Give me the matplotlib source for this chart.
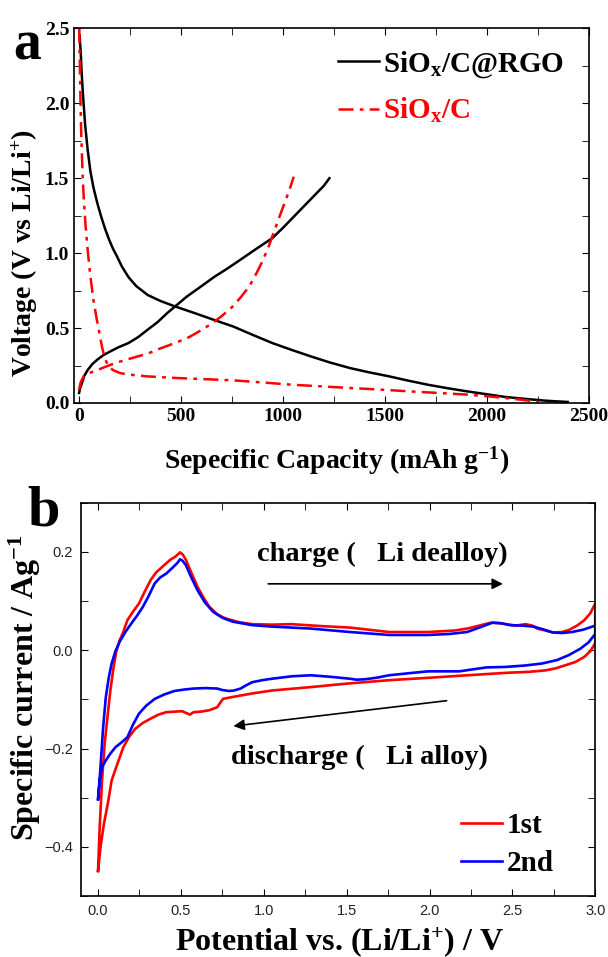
import matplotlib
matplotlib.use("Agg")
import matplotlib.pyplot as plt
from matplotlib.ticker import MultipleLocator

plt.rcParams['font.family'] = ['Liberation Serif', 'DejaVu Serif']
plt.rcParams['mathtext.fontset'] = 'custom'
plt.rcParams['mathtext.rm'] = 'Liberation Serif:bold'
plt.rcParams['mathtext.bf'] = 'Liberation Serif:bold'
plt.rcParams['mathtext.it'] = 'Liberation Serif:bold'
plt.rcParams['lines.solid_joinstyle'] = 'round'
plt.rcParams['lines.dash_joinstyle'] = 'round'

# ---- panel a: charge / discharge profiles (capacity mAh/g, voltage V) ----
rgo_dis_cap = [3, 5, 8, 12, 17, 23, 30, 42, 55, 70, 90, 109, 128, 147, 166, 185, 210,
               242, 280, 337, 400, 471, 566, 660, 756, 850, 947, 1040, 1138, 1230,
               1328, 1420, 1519, 1610, 1709, 1800, 1900, 2000, 2090, 2190, 2281, 2340, 2395]
rgo_dis_v = [2.45, 2.40, 2.34, 2.22, 2.10, 1.98, 1.85, 1.69, 1.55, 1.44, 1.33, 1.24,
             1.16, 1.09, 1.03, 0.98, 0.91, 0.84, 0.78, 0.72, 0.68, 0.644, 0.60, 0.555,
             0.51, 0.455, 0.40, 0.355, 0.31, 0.27, 0.233, 0.205, 0.178, 0.15, 0.122,
             0.10, 0.078, 0.058, 0.04, 0.027, 0.016, 0.011, 0.007]
rgo_chg_cap = [0, 5, 13, 25, 42, 65, 90, 120, 147, 190, 242, 290, 337, 385, 432, 480,
               528, 595, 661, 730, 795, 870, 947, 1000, 1050, 1100, 1150, 1200, 1227]
rgo_chg_v = [0.067, 0.10, 0.13, 0.18, 0.22, 0.26, 0.29, 0.32, 0.34, 0.37, 0.40, 0.44,
             0.49, 0.54, 0.60, 0.655, 0.71, 0.775, 0.84, 0.90, 0.96, 1.03, 1.10, 1.17,
             1.24, 1.31, 1.38, 1.45, 1.50]

c_dis_cap = [1, 2, 4, 7, 10, 13, 18, 23, 32, 42, 55, 70, 85, 99, 113, 128, 145, 166,
             200, 242, 330, 471, 600, 756, 900, 1042, 1200, 1328, 1470, 1614, 1760,
             1900, 2000, 2090, 2180, 2252]
c_dis_v = [2.5, 2.38, 2.24, 2.0, 1.82, 1.69, 1.50, 1.36, 1.18, 1.02, 0.85, 0.69, 0.57,
           0.47, 0.37, 0.29, 0.245, 0.22, 0.20, 0.19, 0.178, 0.167, 0.16, 0.151, 0.137,
           0.122, 0.11, 0.10, 0.09, 0.078, 0.067, 0.056, 0.045, 0.033, 0.02, 0.007]
c_chg_cap = [0, 8, 23, 50, 90, 135, 185, 260, 337, 400, 471, 540, 604, 650, 699, 750,
             795, 835, 871, 900, 928, 952, 976, 995, 1014, 1033, 1052]
c_chg_v = [0.089, 0.14, 0.18, 0.20, 0.22, 0.245, 0.27, 0.30, 0.33, 0.365, 0.40, 0.44,
           0.49, 0.53, 0.58, 0.64, 0.71, 0.78, 0.87, 0.95, 1.04, 1.13, 1.22, 1.29,
           1.36, 1.43, 1.51]

# ---- panel b: CV curves (potential V, current A/g) ----
cv1_up_x = [0.0, 0.01, 0.024, 0.04, 0.059, 0.075, 0.094, 0.11, 0.13, 0.15, 0.177, 0.21,
            0.247, 0.28, 0.318, 0.35, 0.389, 0.436, 0.465, 0.495, 0.51, 0.53, 0.56,
            0.60, 0.64, 0.672, 0.72, 0.766, 0.85, 0.931, 1.05, 1.167, 1.35, 1.52,
            1.756, 1.99, 2.15, 2.227, 2.30, 2.37, 2.42, 2.463, 2.52, 2.58, 2.62, 2.65,
            2.70, 2.745, 2.80, 2.84, 2.89, 2.934, 2.97, 3.0]
cv1_up_y = [-0.449, -0.36, -0.265, -0.19, -0.129, -0.08, -0.034, -0.003, 0.020, 0.035,
            0.061, 0.078, 0.095, 0.118, 0.143, 0.158, 0.170, 0.184, 0.19, 0.199, 0.195,
            0.184, 0.16, 0.129, 0.105, 0.088, 0.073, 0.065, 0.057, 0.053, 0.052, 0.053,
            0.049, 0.046, 0.037, 0.037, 0.040, 0.044, 0.050, 0.056, 0.055, 0.053, 0.050,
            0.053, 0.050, 0.044, 0.040, 0.036, 0.037, 0.041, 0.050, 0.061, 0.075, 0.095]
cv1_dn_x = [3.0, 2.97, 2.934, 2.88, 2.816, 2.76, 2.70, 2.6, 2.463, 2.227, 2.0, 1.756,
            1.5, 1.284, 1.049, 0.93, 0.813, 0.754, 0.735, 0.719, 0.672, 0.62, 0.577,
            0.554, 0.507, 0.46, 0.412, 0.365, 0.318, 0.27, 0.224, 0.19, 0.153, 0.12,
            0.082, 0.06, 0.035, 0.015, 0.0]
cv1_dn_y = [0.014, -0.002, -0.0136, -0.024, -0.031, -0.037, -0.041, -0.044, -0.046,
            -0.051, -0.056, -0.061, -0.068, -0.075, -0.082, -0.088, -0.095, -0.099,
            -0.108, -0.116, -0.122, -0.125, -0.126, -0.131, -0.124, -0.125, -0.126,
            -0.131, -0.139, -0.148, -0.160, -0.175, -0.197, -0.228, -0.265, -0.31,
            -0.354, -0.40, -0.449]

cv2_up_x = [0.0, 0.008, 0.016, 0.03, 0.047, 0.065, 0.082, 0.105, 0.13, 0.165, 0.20,
            0.235, 0.27, 0.305, 0.342, 0.375, 0.412, 0.45, 0.48, 0.495, 0.51, 0.53,
            0.56, 0.60, 0.645, 0.695, 0.75, 0.813, 0.93, 1.049, 1.284, 1.52, 1.756,
            1.99, 2.12, 2.227, 2.30, 2.38, 2.43, 2.486, 2.56, 2.628, 2.69, 2.745, 2.80,
            2.86, 2.93, 3.0]
cv2_up_y = [-0.303, -0.27, -0.231, -0.16, -0.095, -0.055, -0.027, -0.002, 0.017, 0.037,
            0.054, 0.07, 0.088, 0.11, 0.136, 0.148, 0.156, 0.168, 0.178, 0.185, 0.182,
            0.173, 0.15, 0.122, 0.097, 0.078, 0.066, 0.058, 0.051, 0.048, 0.044, 0.037,
            0.031, 0.031, 0.033, 0.037, 0.046, 0.056, 0.055, 0.051, 0.050, 0.048, 0.042,
            0.036, 0.035, 0.037, 0.042, 0.050]
cv2_dn_x = [3.0, 2.96, 2.91, 2.84, 2.77, 2.68, 2.58, 2.46, 2.345, 2.26, 2.18, 2.08,
            1.99, 1.87, 1.756, 1.68, 1.614, 1.56, 1.52, 1.40, 1.284, 1.17, 1.049, 0.99,
            0.931, 0.89, 0.86, 0.82, 0.79, 0.75, 0.72, 0.65, 0.577, 0.52, 0.46, 0.40,
            0.342, 0.29, 0.247, 0.21, 0.177, 0.14, 0.106, 0.075, 0.047, 0.024, 0.01, 0.0]
cv2_dn_y = [0.033, 0.016, 0.003, -0.010, -0.020, -0.027, -0.031, -0.034, -0.035, -0.039,
            -0.043, -0.043, -0.043, -0.047, -0.051, -0.056, -0.059, -0.060, -0.058,
            -0.054, -0.051, -0.053, -0.058, -0.061, -0.065, -0.072, -0.078, -0.082,
            -0.083, -0.081, -0.078, -0.077, -0.078, -0.080, -0.083, -0.090, -0.099,
            -0.113, -0.129, -0.152, -0.177, -0.188, -0.197, -0.210, -0.224, -0.238,
            -0.265, -0.303]

fig = plt.figure(figsize=(6.08, 9.57), dpi=100)
dashdot = (0, (6, 2.5, 1.5, 2.5))

# ======== a ========
ax1 = fig.add_axes([0.1217, 0.5789, 0.8473, 0.3915])
ax1.plot(rgo_dis_cap, rgo_dis_v, color='black', lw=1.8)
ax1.plot(rgo_chg_cap, rgo_chg_v, color='black', lw=1.8, label=r'SiO$_{\mathbf{x}}$/C@RGO')
ax1.plot(c_dis_cap, c_dis_v, color='red', lw=1.8, ls=dashdot)
ax1.plot(c_chg_cap, c_chg_v, color='red', lw=1.8, ls=dashdot, label=r'SiO$_{\mathbf{x}}$/C')
ax1.set_xlim(-25, 2500)
ax1.set_ylim(0, 2.5)
ax1.xaxis.set_major_locator(MultipleLocator(500))
ax1.xaxis.set_minor_locator(MultipleLocator(250))
ax1.yaxis.set_major_locator(MultipleLocator(0.5))
ax1.yaxis.set_minor_locator(MultipleLocator(0.25))
ax1.tick_params(which='both', direction='in', top=True, right=True, length=5, labelsize=14)
for lab in ax1.get_xticklabels() + ax1.get_yticklabels():
    lab.set_fontweight('bold')
for s in ax1.spines.values():
    s.set_linewidth(1.2)
leg = ax1.legend(loc='upper left', bbox_to_anchor=(0.513, 0.944), frameon=False,
                 handlelength=1.4, handletextpad=0.15, labelspacing=0.55,
                 borderpad=0, borderaxespad=0, prop={'weight': 'bold', 'size': 21})
leg.get_texts()[1].set_color('red')
ax1.set_xlabel(r'Sepecific Capacity (mAh g$^{\mathbf{-1}}$)', fontsize=20, fontweight='bold')
ax1.xaxis.set_label_coords(0.51, -0.112)
ax1.set_ylabel(r'Voltage (V vs Li/Li$^{\mathbf{+}}$)', fontsize=20, fontweight='bold')
ax1.yaxis.set_label_coords(-0.066, 0.40)
fig.text(0.022, 0.952, 'a', fontsize=40, fontweight='bold', va='center')

# ======== b ========
ax2 = fig.add_axes([0.134, 0.0637, 0.845, 0.411])
ax2.plot(cv1_up_x + cv1_dn_x, cv1_up_y + cv1_dn_y, color='red', lw=1.9, label='1st')
ax2.plot(cv2_up_x + cv2_dn_x, cv2_up_y + cv2_dn_y, color='blue', lw=1.9, label='2nd')
ax2.set_xlim(-0.1, 3.0)
ax2.set_ylim(-0.5, 0.3)
ax2.xaxis.set_major_locator(MultipleLocator(0.5))
ax2.xaxis.set_minor_locator(MultipleLocator(0.25))
ax2.yaxis.set_major_locator(MultipleLocator(0.2))
ax2.yaxis.set_minor_locator(MultipleLocator(0.1))
ax2.tick_params(which='both', direction='in', top=True, right=True, length=5,
                labelsize=10.5, labelcolor='#222222', pad=6)
for lab in ax2.get_xticklabels() + ax2.get_yticklabels():
    lab.set_fontfamily(['Liberation Sans', 'DejaVu Sans'])
for s in ax2.spines.values():
    s.set_linewidth(1.2)
ax2.legend(loc='upper left', bbox_to_anchor=(0.739, 0.213), frameon=False,
           handlelength=1.4, handletextpad=0.17, labelspacing=0.37,
           borderpad=0, borderaxespad=0, prop={'weight': 'bold', 'size': 21})
ax2.annotate('', xy=(2.46, 0.135), xytext=(1.01, 0.135),
             arrowprops=dict(arrowstyle='-|>', color='black', lw=1.2, mutation_scale=16))
ax2.annotate('', xy=(0.80, -0.155), xytext=(2.12, -0.102),
             arrowprops=dict(arrowstyle='-|>', color='black', lw=1.2, mutation_scale=16))
ax2.text(1.715, 0.194, 'charge (   Li dealloy)', fontsize=20.5, fontweight='bold',
         ha='center', va='center')
ax2.text(1.58, -0.218, 'discharge (   Li alloy)', fontsize=20.5, fontweight='bold',
         ha='center', va='center')
ax2.set_xlabel(r'Potential vs. (Li/Li$^{\mathbf{+}}$) / V', fontsize=23, fontweight='bold')
ax2.xaxis.set_label_coords(0.503, -0.074)
ax2.set_ylabel(r'Specific current / Ag$^{\mathbf{-1}}$', fontsize=23, fontweight='bold')
ax2.yaxis.set_label_coords(-0.075, 0.53)
fig.text(0.045, 0.466, 'b', fontsize=42, fontweight='bold', va='center')

fig.savefig('out.png', dpi=100)
